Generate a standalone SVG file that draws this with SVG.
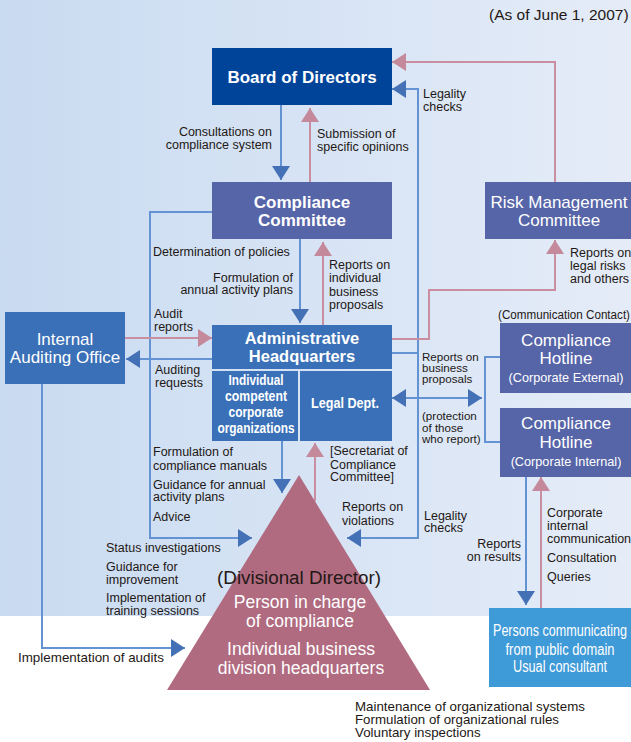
<svg xmlns="http://www.w3.org/2000/svg" width="631" height="742" viewBox="0 0 631 742">
<defs>
<linearGradient id="bg" x1="0" y1="0" x2="1" y2="0">
<stop offset="0" stop-color="#c9dbf1"/>
<stop offset="1" stop-color="#e5ecf8"/>
</linearGradient>
<marker id="ab" markerUnits="userSpaceOnUse" markerWidth="14" markerHeight="18" refX="14" refY="9" orient="auto-start-reverse" viewBox="0 0 14 18">
<path d="M0,0 L14,9 L0,18 Z" fill="#4470b5"/>
</marker>
<marker id="ap" markerUnits="userSpaceOnUse" markerWidth="14" markerHeight="18" refX="14" refY="9" orient="auto-start-reverse" viewBox="0 0 14 18">
<path d="M0,0 L14,9 L0,18 Z" fill="#c48a9c"/>
</marker>
</defs>
<style>
text{font-family:"Liberation Sans",Arial,Helvetica,sans-serif;}
.s{font-size:12.5px;fill:#231815;}
.r{text-anchor:end;}
.t{font-size:17px;fill:#fff;text-anchor:middle;}
.b{font-weight:bold;}
.c{font-size:15.5px;fill:#fff;text-anchor:middle;font-weight:bold;}
.cr{font-size:16px;fill:#fff;text-anchor:middle;}
.n{font-size:11.6px;}
.lb{fill:none;stroke:#6393d2;stroke-width:2;}
.lp{fill:none;stroke:#c98fa1;stroke-width:2;}
.navy{fill:#00449a;}
.slate{fill:#5664a8;}
.mid{fill:#3a70b7;}
.sky{fill:#3f9ad8;}
</style>
<rect x="0" y="0" width="631" height="616" fill="url(#bg)"/>
<rect x="0" y="616" width="631" height="126" fill="#fff"/>

<text class="s" x="489" y="20" style="font-size:15.5px">(As of June 1, 2007)</text>

<g id="connectors">
<path class="lb" d="M281,105 V180" marker-end="url(#ab)"/>
<path class="lp" d="M310,182 V108" marker-end="url(#ap)"/>
<path class="lp" d="M555,182 V62 H392" marker-end="url(#ap)"/>
<path class="lb" d="M347,538 H418 V89 H392" marker-start="url(#ab)" marker-end="url(#ab)"/>
<path class="lb" d="M300,239 V323" marker-end="url(#ab)"/>
<path class="lp" d="M323,325 V242" marker-end="url(#ap)"/>
<path class="lb" d="M212,212 H150 V538 H252" marker-end="url(#ab)"/>
<path class="lp" d="M125,338 H212" marker-end="url(#ap)"/>
<path class="lb" d="M212,359 H126" marker-end="url(#ab)"/>
<path class="lb" d="M42,384 V648 H185" marker-end="url(#ab)"/>
<path class="lp" d="M392,339 H429 V290 H555 V240" marker-end="url(#ap)"/>
<path class="lb" d="M392,353 H418"/>
<path class="lb" d="M392,398 H482" marker-start="url(#ab)" marker-end="url(#ab)"/>
<path class="lb" d="M500,357 H485 V442 H500"/>
<path class="lb" d="M282,441 V493" marker-end="url(#ab)"/>
<path class="lp" d="M315,501 V443" marker-end="url(#ap)"/>
<path class="lb" d="M526,477 V605" marker-end="url(#ab)"/>
<path class="lp" d="M541,608 V477" marker-end="url(#ap)"/>
</g>

<g id="board">
<rect class="navy" x="212" y="48" width="180" height="57"/>
<text class="t b" x="302" y="83">Board of Directors</text>
</g>

<g id="compliance-committee">
<rect class="slate" x="212" y="182" width="180" height="57"/>
<text class="t b" x="302" y="208">Compliance</text>
<text class="t b" x="302" y="226">Committee</text>
</g>

<g id="risk-management">
<rect class="slate" x="485" y="182" width="146" height="57"/>
<text class="t" x="559" y="208">Risk Management</text>
<text class="t" x="559" y="226">Committee</text>
</g>

<g id="internal-auditing">
<rect class="mid" x="5" y="312" width="120" height="72"/>
<text class="t" x="65" y="345">Internal</text>
<text class="t" x="65" y="363">Auditing Office</text>
</g>

<g id="admin-hq">
<rect class="mid" x="212" y="325" width="180" height="44"/>
<text class="t b" x="302" y="344" style="font-size:16.5px">Administrative</text>
<text class="t b" x="302" y="362" style="font-size:16.5px">Headquarters</text>
</g>

<g id="individual-orgs">
<rect class="mid" x="212" y="371" width="86" height="70"/>
<text class="c" x="256" y="385" textLength="55" lengthAdjust="spacingAndGlyphs">Individual</text>
<text class="c" x="256" y="401" textLength="62" lengthAdjust="spacingAndGlyphs">competent</text>
<text class="c" x="256" y="417" textLength="55" lengthAdjust="spacingAndGlyphs">corporate</text>
<text class="c" x="256" y="433" textLength="77" lengthAdjust="spacingAndGlyphs">organizations</text>
</g>

<g id="legal-dept">
<rect class="mid" x="300" y="371" width="92" height="70"/>
<text class="c" x="345" y="408" textLength="68" lengthAdjust="spacingAndGlyphs">Legal Dept.</text>
</g>

<g id="hotline-external">
<text class="s" x="498" y="319" textLength="132" lengthAdjust="spacingAndGlyphs">(Communication Contact)</text>
<rect class="slate" x="500" y="323" width="131" height="70"/>
<text class="t" x="566" y="346">Compliance</text>
<text class="t" x="566" y="364">Hotline</text>
<text class="t" x="566" y="382" style="font-size:12.7px">(Corporate External)</text>
</g>

<g id="hotline-internal">
<rect class="slate" x="500" y="408" width="131" height="69"/>
<text class="t" x="566" y="429">Compliance</text>
<text class="t" x="566" y="448">Hotline</text>
<text class="t" x="566" y="466" style="font-size:12.7px">(Corporate Internal)</text>
</g>

<g id="persons-public">
<rect class="sky" x="489" y="608" width="142" height="79"/>
<text class="cr" x="560" y="636" textLength="134" lengthAdjust="spacingAndGlyphs">Persons communicating</text>
<text class="cr" x="560" y="655" textLength="109" lengthAdjust="spacingAndGlyphs">from public domain</text>
<text class="cr" x="560" y="672" textLength="94" lengthAdjust="spacingAndGlyphs">Usual consultant</text>
</g>

<g id="divisional">
<polygon points="299,475 430,690 167,690" fill="#b06b80"/>
<text x="299" y="584" text-anchor="middle" style="font-size:18.8px;fill:#231815">(Divisional Director)</text>
<text class="t" x="300" y="608" style="font-size:17.5px">Person in charge</text>
<text class="t" x="300" y="627" style="font-size:17.5px">of compliance</text>
<text class="t" x="301" y="655" style="font-size:17.5px">Individual business</text>
<text class="t" x="301" y="674" style="font-size:17.5px">division headquarters</text>
</g>

<g id="labels">
<text class="s r" x="272" y="136">Consultations on</text>
<text class="s r" x="272" y="149">compliance system</text>
<text class="s" x="317" y="138">Submission of</text>
<text class="s" x="317" y="151">specific opinions</text>
<text class="s" x="423" y="98">Legality</text>
<text class="s" x="423" y="111">checks</text>
<text class="s" x="153" y="256">Determination of policies</text>
<text class="s r" x="293" y="282">Formulation of</text>
<text class="s r" x="293" y="294">annual activity plans</text>
<text class="s" x="329" y="269">Reports on</text>
<text class="s" x="329" y="282">individual</text>
<text class="s" x="329" y="296">business</text>
<text class="s" x="329" y="309">proposals</text>
<text class="s" x="154" y="318">Audit</text>
<text class="s" x="154" y="331">reports</text>
<text class="s" x="155" y="374">Auditing</text>
<text class="s" x="155" y="387">requests</text>
<text class="s" x="570" y="257">Reports on</text>
<text class="s" x="570" y="270">legal risks</text>
<text class="s" x="570" y="283">and others</text>
<text class="s n" x="422" y="361">Reports on</text>
<text class="s n" x="422" y="372">business</text>
<text class="s n" x="422" y="383">proposals</text>
<text class="s n" x="422" y="420">(protection</text>
<text class="s n" x="422" y="432">of those</text>
<text class="s n" x="422" y="443">who report)</text>
<text class="s" x="153" y="456">Formulation of</text>
<text class="s" x="153" y="470">compliance manuals</text>
<text class="s" x="153" y="489">Guidance for annual</text>
<text class="s" x="153" y="501">activity plans</text>
<text class="s" x="153" y="521">Advice</text>
<text class="s" x="330" y="455">[Secretariat of</text>
<text class="s" x="330" y="469">Compliance</text>
<text class="s" x="330" y="481">Committee]</text>
<text class="s" x="342" y="511">Reports on</text>
<text class="s" x="342" y="525">violations</text>
<text class="s" x="424" y="520">Legality</text>
<text class="s" x="424" y="532">checks</text>
<text class="s" x="106" y="552">Status investigations</text>
<text class="s" x="106" y="571">Guidance for</text>
<text class="s" x="106" y="584">improvement</text>
<text class="s" x="106" y="602">Implementation of</text>
<text class="s" x="106" y="615">training sessions</text>
<text class="s" x="18" y="662" style="font-size:13.4px">Implementation of audits</text>
<text class="s r" x="521" y="548">Reports</text>
<text class="s r" x="521" y="561">on results</text>
<text class="s" x="547" y="517">Corporate</text>
<text class="s" x="547" y="530">internal</text>
<text class="s" x="547" y="543">communication</text>
<text class="s" x="547" y="562">Consultation</text>
<text class="s" x="547" y="581">Queries</text>
<text class="s" x="355" y="711" style="font-size:13.3px">Maintenance of organizational systems</text>
<text class="s" x="355" y="724" style="font-size:13.3px">Formulation of organizational rules</text>
<text class="s" x="355" y="737" style="font-size:13.3px">Voluntary inspections</text>
</g>
</svg>
